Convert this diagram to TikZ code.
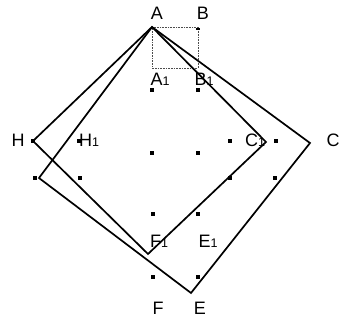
\documentclass[tikz,border=0pt]{standalone}
\usepackage{fontspec}
\setmainfont{Liberation Sans}
\begin{document}
\begin{tikzpicture}[x=1pt,y=-1pt,
  edge/.style={line width=1.7pt,line join=miter},
  gridpt/.style={fill=black,minimum size=3.5pt,inner sep=0pt,rectangle},
  lab/.style={font=\fontsize{18}{20}\selectfont,inner sep=0pt},
  boxline/.style={densely dotted,line width=0.6pt,black!70}]
\useasboundingbox (0,0) rectangle (340,321);
\newcommand{\sub}[1]{{\fontsize{12.5}{14}\selectfont #1}}
% vertices
\coordinate (A) at (152,27);
\coordinate (C) at (310,143);
\coordinate (E) at (191,293);
\coordinate (G) at (39,178);
\coordinate (H) at (33,141);
\coordinate (C1) at (266,142);
\coordinate (F1) at (148,254);
% dotted square
\coordinate (Bc) at (198,27);
\coordinate (B1c) at (198,68);
\coordinate (A1c) at (152,68);
\draw[boxline] (A) -- (Bc) -- (B1c) -- (A1c) -- cycle;
\node[fill=black,minimum width=4pt,minimum height=2pt,inner sep=0pt] (Bm) at (198,29) {};
% squares
\draw[edge] (A) -- (C) -- (E) -- (G) -- cycle;
\draw[edge] (A) -- (C1) -- (F1) -- (H) -- cycle;
% grid dots
\foreach \n/\x/\y in {p1/152/90,p2/198/90,
  p3/33/141,p4/79/141,p5/230/141,p6/276/141,
  p7/152/153,p8/198/153,
  p9/35/178,p10/80/178,p11/230/178,p12/275/178,
  p13/153/214,p14/198/214,p15/153/277,p16/198/277}
  \node[gridpt] (\n) at (\x,\y) {};
% labels
\node[lab] (lA) at (157,13) {A};
\node[lab] (lB) at (203,13) {B};
\node[lab] (lA1) at (160,79) {A\sub{1}};
\node[lab] (lB1) at (204,79) {B\sub{1}};
\node[lab] (lH) at (18,140) {H};
\node[lab,anchor=west] (lH1) at (79,140) {H\sub{1}};
\node[lab] (lC1) at (255,140) {C\sub{1}};
\node[lab] (lC) at (333,140) {C};
\node[lab] (lF1) at (159,241) {F\sub{1}};
\node[lab] (lE1) at (208,241) {E\sub{1}};
\node[lab] (lF) at (158,308) {F};
\node[lab] (lE) at (200,308) {E};
\end{tikzpicture}
\end{document}
